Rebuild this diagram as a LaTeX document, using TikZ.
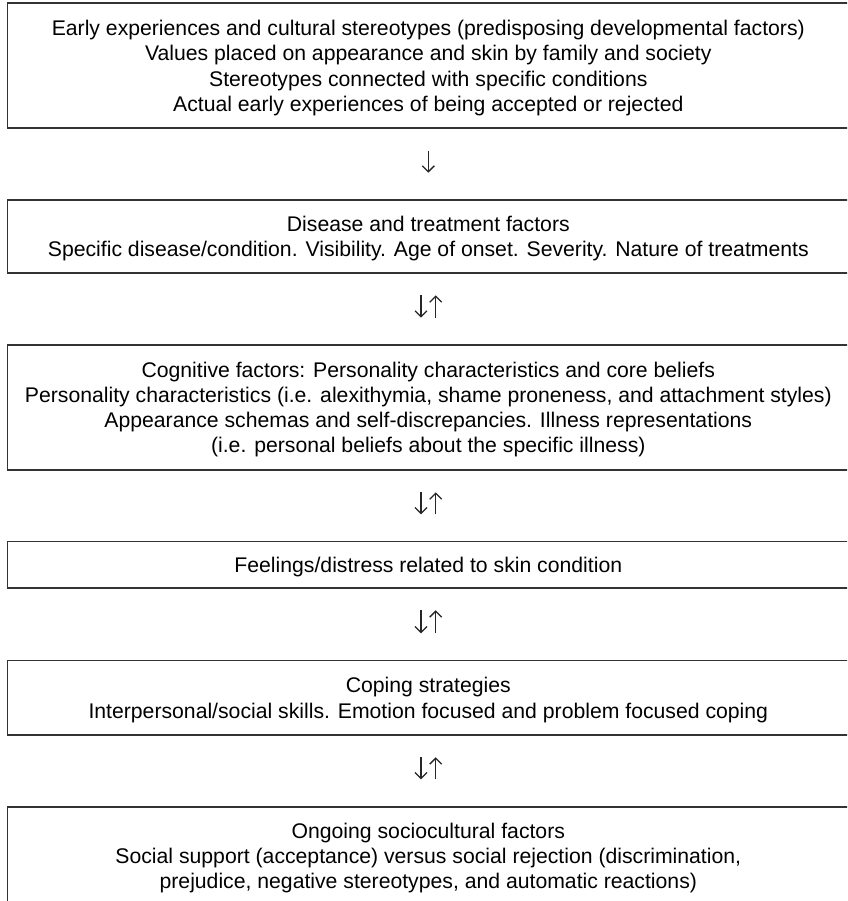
\documentclass[tikz,border=0pt]{standalone}
\usepackage{fontspec}
\setmainfont{Liberation Sans}
\usetikzlibrary{arrows.meta}
\begin{document}
\begin{tikzpicture}[x=1pt,y=-1pt,
  box/.style={draw=black!80, line width=1.6pt, rectangle, inner sep=0pt,
    minimum width=841.3pt, align=center, text=black, text depth=0pt,
    font=\fontsize{21.2}{25.2}\selectfont},
  flow/.style={draw=black!85, line width=1.3pt,
    -{Straight Barb[length=6pt,width=12pt]}},
  down/.style={flow, shorten <=21.5pt, shorten >=26.5pt},
  up/.style={flow, shorten <=26.5pt, shorten >=21.5pt}]
\useasboundingbox (0,0) rectangle (847,901);
\clip (0,0) rectangle (847,901);
\node[box, minimum height=125pt] (b1) at (428.3,65.8) {Early experiences and cultural stereotypes (predisposing developmental factors)\\ Values placed on appearance and skin by family and society\\ Stereotypes connected with specific conditions\\ Actual early experiences of being accepted or rejected};
\node[box, minimum height=73pt] (b2) at (428.3,236.5) {Disease and treatment factors\\ Specific disease/condition. Visibility. Age of onset. Severity. Nature of treatments};
\node[box, minimum height=125pt] (b3) at (428.3,407.5) {Cognitive factors: Personality characteristics and core beliefs\\ Personality characteristics (i.e. alexithymia, shame proneness, and attachment styles)\\ Appearance schemas and self-discrepancies. Illness representations\\ (i.e. personal beliefs about the specific illness)};
\node[box, minimum height=46.3pt] (b4) at (428.3,564.8) {Feelings/distress related to skin condition};
\node[box, minimum height=74.3pt] (b5) at (428.3,697.8) {Coping strategies\\ Interpersonal/social skills. Emotion focused and problem focused coping};
\node[box, minimum height=98pt] (b6) at (428.3,855.7) {Ongoing sociocultural factors\\ Social support (acceptance) versus social rejection (discrimination,\\ prejudice, negative stereotypes, and automatic reactions)};
\draw[down] (b1.south) -- (b2.north);
\draw[down] ([xshift=-7.3pt]b2.south) -- ([xshift=-7.3pt]b3.north);
\draw[up] ([xshift=7.4pt]b3.north) -- ([xshift=7.4pt]b2.south);
\draw[down] ([xshift=-7.3pt]b3.south) -- ([xshift=-7.3pt]b4.north);
\draw[up] ([xshift=7.4pt]b4.north) -- ([xshift=7.4pt]b3.south);
\draw[down] ([xshift=-7.3pt]b4.south) -- ([xshift=-7.3pt]b5.north);
\draw[up] ([xshift=7.4pt]b5.north) -- ([xshift=7.4pt]b4.south);
\draw[down] ([xshift=-7.3pt]b5.south) -- ([xshift=-7.3pt]b6.north);
\draw[up] ([xshift=7.4pt]b6.north) -- ([xshift=7.4pt]b5.south);
\end{tikzpicture}
\end{document}
